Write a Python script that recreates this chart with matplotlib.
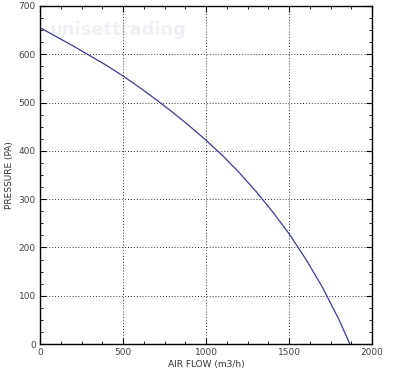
import matplotlib
matplotlib.use("Agg")
import matplotlib.pyplot as plt
from matplotlib.ticker import MultipleLocator

flow = [0, 100, 200, 300, 400, 500, 600, 700, 800, 900, 1000, 1100, 1200, 1300, 1400, 1500, 1600, 1700, 1800, 1867]
pressure = [655, 636, 617, 597, 577, 555, 531, 506, 479.5, 451.5, 422, 390, 355, 316.5, 274.5, 228.5, 176.5, 118.5, 51.5, 0]
x_ticks = [0, 500, 1000, 1500, 2000]
y_ticks = [0, 100, 200, 300, 400, 500, 600, 700]

fig = plt.figure(figsize=(4.0, 3.68), dpi=100)
ax = fig.add_axes([0.1, 0.065, 0.83, 0.919])
ax.plot(flow, pressure, color="#3b3b96", lw=0.9)
ax.set_xlim(0, 2000)
ax.set_ylim(0, 700)
ax.set_xticks(x_ticks)
ax.set_yticks(y_ticks)
ax.xaxis.set_minor_locator(MultipleLocator(125))
ax.yaxis.set_minor_locator(MultipleLocator(25))
ax.tick_params(which="both", direction="in", top=True, right=True, labelsize=6.5, labelcolor="#444444", pad=3)
ax.tick_params(which="major", length=4, width=0.8)
ax.tick_params(which="minor", length=2, width=0.6)
ax.grid(True, which="major", linestyle=(0, (1, 2)), color="#333333", lw=0.7)
for s in ax.spines.values():
    s.set_linewidth(1.0)
ax.set_xlabel("AIR FLOW (m3/h)", fontsize=6.5, color="#333333", labelpad=2)
ax.set_ylabel("PRESSURE (PA)", fontsize=6.5, color="#333333", labelpad=3)
ax.text(0.03, 0.955, "unisettrading", transform=ax.transAxes, fontsize=13, fontweight="bold", color="#eef0f4", va="top", zorder=0)
fig.savefig("out.png", dpi=100)
